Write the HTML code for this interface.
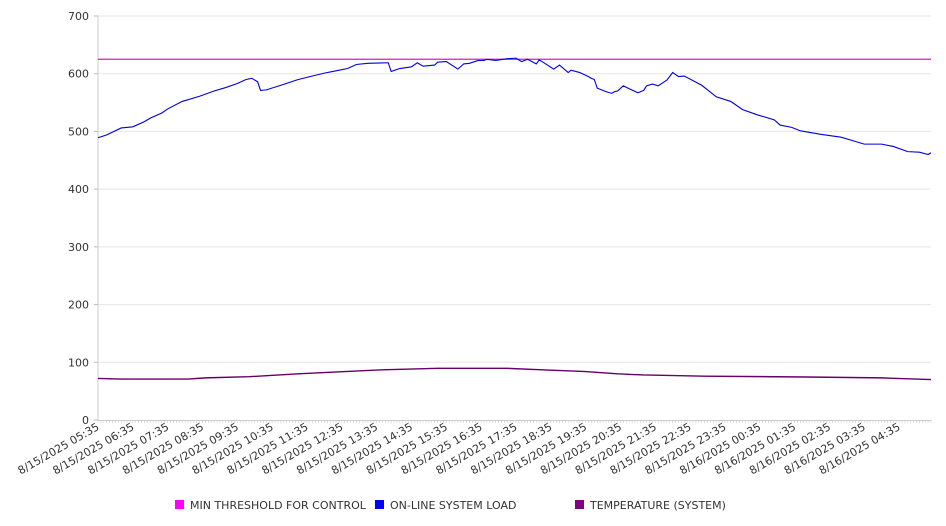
<!DOCTYPE html>
<html><head><meta charset="utf-8"><style>
html,body{margin:0;padding:0;background:#fff;}
svg{display:block;font-family:"DejaVu Sans","Liberation Sans",sans-serif;}
</style></head><body>
<svg id="chart" width="946" height="526" viewBox="0 0 946 526" xmlns="http://www.w3.org/2000/svg">
<g id="grid"></g>
<g id="yaxis"></g>
<g id="xaxis"></g>
<g id="series"></g>
<g font-size="11" fill="#333">
 <g><rect x="175" y="500" width="9" height="9" fill="#ff00ff"/><text x="190" y="509">MIN THRESHOLD FOR CONTROL</text></g>
 <g><rect x="375" y="500" width="9" height="9" fill="#0000ff"/><text x="390" y="509">ON-LINE SYSTEM LOAD</text></g>
 <g><rect x="575" y="500" width="9" height="9" fill="#800080"/><text x="590" y="509">TEMPERATURE (SYSTEM)</text></g>
</g>
</svg>
<script>
const yTicks=[0,100,200,300,400,500,600,700];
const xLabels=["8/15/2025 05:35","8/15/2025 06:35","8/15/2025 07:35","8/15/2025 08:35","8/15/2025 09:35","8/15/2025 10:35","8/15/2025 11:35","8/15/2025 12:35","8/15/2025 13:35","8/15/2025 14:35","8/15/2025 15:35","8/15/2025 16:35","8/15/2025 17:35","8/15/2025 18:35","8/15/2025 19:35","8/15/2025 20:35","8/15/2025 21:35","8/15/2025 22:35","8/15/2025 23:35","8/16/2025 00:35","8/16/2025 01:35","8/16/2025 02:35","8/16/2025 03:35","8/16/2025 04:35"];
const pointCount=288;
const thresholdValue=625;
const loadIdx=[0,3,8,12,16,18,22,24,29,35,40,44,48,51,53,55,56,58,63,69,73,78,82,86,89,93,100,101,104,108,110,112,116,117,120,124,126,128,131,133,134,137,141,144,146,148,151,152,153,157,159,162,163,166,169,170,171,172,175,177,178,179,181,183,186,188,189,191,193,196,198,200,202,208,213,218,222,227,233,235,239,242,249,256,260,264,270,274,279,283,286,287];
const loadVals=[489,494,506,508,517,523,532,539,552,561,570,576,583,590,592,586,571,572,580,590,595,601,605,609,616,618,619,604,609,612,619,613,615,620,621,608,617,618,623,623,625,623,626,627,621,625,617,624,621,608,615,602,606,602,595,592,590,575,569,566,569,570,579,574,567,571,579,582,579,589,602,595,596,580,560,552,538,529,520,511,507,501,495,490,484,478,478,474,465,464,460,463];
const tempIdx=[0,8,31,37,52,69,85,98,117,141,153,168,179,188,209,244,270,278,287];
const tempVals=[72,71,71,73,75,80,84,87,89.5,89.5,87,84,80,78,76,74.5,73,71.5,70];

const X0=98,X1=931,Y0=420,Y1=16;
const x=i=>X0+i*(X1-X0)/(pointCount-1);
const y=v=>Y0-v*(Y0-Y1)/700;
const NS="http://www.w3.org/2000/svg";
function mk(tag,parent,attrs){const e=document.createElementNS(NS,tag);for(const k in attrs)e.setAttribute(k,attrs[k]);parent.appendChild(e);return e;}
const grid=document.getElementById('grid'),ya=document.getElementById('yaxis'),xa=document.getElementById('xaxis'),ser=document.getElementById('series');
yTicks.forEach(v=>{
 if(v>0){const l=mk('line',grid,{x1:X0,x2:X1,y1:y(v),y2:y(v),stroke:'#e6e6e6','stroke-width':1});
 
 }
 const tk=mk('line',ya,{x1:X0-4,x2:X0,y1:y(v),y2:y(v),stroke:'#bbb'});
 
 
 const t=mk('text',ya,{x:X0-9,y:y(v)+4,'text-anchor':'end','font-size':11,fill:'#333'});
 t.textContent=v;
 
 
});
const ax=mk('line',ya,{x1:X0,x2:X0,y1:Y1,y2:Y0,stroke:'#ccc'});


const bx=mk('line',xa,{x1:X0,x2:X1,y1:Y0+0.5,y2:Y0+0.5,stroke:'#ccc'});


let d='';
for(let i=0;i<pointCount;i++){d+='M'+x(i).toFixed(2)+' '+Y0+'v3';}
const tp=mk('path',xa,{d:d,stroke:'#ccc','stroke-width':0.6,fill:'none'});


xLabels.forEach((s,k)=>{
 const px=x(k*12)+2,py=Y0+9;
 const t=mk('text',xa,{x:px,y:py,'text-anchor':'end','font-size':11,fill:'#333',transform:'rotate(-30 '+px+' '+py+')'});
 t.textContent=s;
 
 
});
const th=mk('line',ser,{x1:X0,x2:X1,y1:y(thresholdValue),y2:y(thresholdValue),stroke:'#cc22cc','stroke-width':1.2});


const lp=mk('polyline',ser,{points:loadIdx.map((i,k)=>x(i).toFixed(2)+','+y(loadVals[k]).toFixed(2)).join(' '),fill:'none',stroke:'#0000dd','stroke-width':1.1});


const tl=mk('polyline',ser,{points:tempIdx.map((i,k)=>x(i).toFixed(2)+','+y(tempVals[k]).toFixed(2)).join(' '),fill:'none',stroke:'#660066','stroke-width':1.4});


</script>
</body></html>
